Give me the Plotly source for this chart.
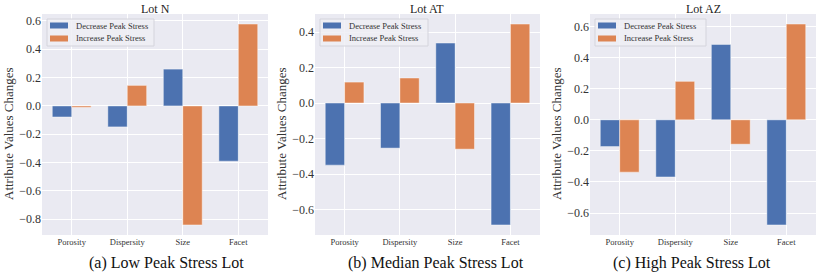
import plotly.graph_objects as go

categories = ["Porosity", "Dispersity", "Size", "Facet"]
series_names = ["Decrease Peak Stress", "Increase Peak Stress"]

lot_titles = ["Lot N", "Lot AT", "Lot AZ"]
captions = ["(a) Low Peak Stress Lot", "(b) Median Peak Stress Lot", "(c) High Peak Stress Lot"]

lotN_decrease = [-0.078, -0.148, 0.26, -0.39]
lotN_increase = [-0.01, 0.145, -0.84, 0.578]
lotAT_decrease = [-0.35, -0.254, 0.338, -0.687]
lotAT_increase = [0.118, 0.141, -0.26, 0.445]
lotAZ_decrease = [-0.172, -0.368, 0.486, -0.677]
lotAZ_increase = [-0.337, 0.248, -0.157, 0.617]

ticks_N = [0.6, 0.4, 0.2, 0.0, -0.2, -0.4, -0.6, -0.8]
ticks_AT = [0.4, 0.2, 0.0, -0.2, -0.4, -0.6]
ticks_AZ = [0.6, 0.4, 0.2, 0.0, -0.2, -0.4, -0.6]

W, H = 822, 273
BLUE = "#4C72B0"
ORANGE = "#DD8452"
BG = "#EAEAF2"
FONT = "Liberation Serif"

panels = [
    (lotN_decrease, lotN_increase, ticks_N),
    (lotAT_decrease, lotAT_increase, ticks_AT),
    (lotAZ_decrease, lotAZ_increase, ticks_AZ),
]
x_px = [(42, 268), (315, 540), (590, 816)]
y_px = (14, 235)
title_cx = [155, 427, 703]
caption_cx = [166, 436, 692]
ylabel_cx = [8, 281, 556]
legend_w = [107, 108, 111]

def fmt(v):
    s = f"{abs(v):.1f}"
    return ("\u2212" + s) if v < 0 else s

def px_x(p):
    return p / W

def px_y(p):
    return 1 - p / H

fig = go.Figure()
annotations = []
shapes = []
colors = [BLUE, ORANGE]
for i, (dec, inc, ticks) in enumerate(panels):
    sfx = "" if i == 0 else str(i + 1)
    xa, ya = "x" + sfx, "y" + sfx
    allv = dec + inc
    lo, hi = min(allv), max(allv)
    pad = (hi - lo) * 0.05
    for name, vals, col in zip(series_names, (dec, inc), colors):
        fig.add_trace(go.Bar(
            x=categories, y=vals, name=name, marker_color=col,
            marker_line=dict(color="rgba(255,255,255,0.55)", width=0.8),
            xaxis=xa, yaxis=ya, offsetgroup=name, showlegend=False,
        ))
    x0, x1 = x_px[i]
    fig.layout["xaxis" + sfx] = dict(
        domain=[x0 / W, x1 / W], anchor=ya, range=[-0.535, 3.535],
        showgrid=True, gridcolor="white", gridwidth=1, zeroline=False,
        tickfont=dict(family=FONT, size=8.5, color="#333"), ticks="",
        showline=False,
    )
    fig.layout["yaxis" + sfx] = dict(
        domain=[1 - y_px[1] / H, 1 - y_px[0] / H], anchor=xa,
        range=[lo - pad, hi + pad],
        tickvals=ticks, ticktext=[fmt(t) for t in ticks],
        showgrid=True, gridcolor="white", gridwidth=1, zeroline=False,
        tickfont=dict(family=FONT, size=12, color="#333"), ticks="",
        showline=False,
    )
    lx0 = x0 + 5
    shapes.append(dict(type="rect", xref="paper", yref="paper",
                       x0=px_x(lx0), x1=px_x(lx0 + legend_w[i]), y0=px_y(46), y1=px_y(19),
                       fillcolor="rgba(238,238,244,0.85)", line=dict(color="#d4d4dc", width=1), layer="above"))
    for k, (name, col) in enumerate(zip(series_names, colors)):
        cy = 25.5 + k * 13
        shapes.append(dict(type="rect", xref="paper", yref="paper",
                           x0=px_x(x0 + 8), x1=px_x(x0 + 26), y0=px_y(cy + 3), y1=px_y(cy - 3),
                           fillcolor=col, line=dict(width=0), layer="above"))
        annotations.append(dict(text=name, x=px_x(x0 + 32), y=px_y(cy),
                                xref="paper", yref="paper", showarrow=False,
                                font=dict(family=FONT, size=8.5, color="#333"),
                                xanchor="left", yanchor="middle"))
    annotations.append(dict(text=lot_titles[i], x=title_cx[i] / W, y=1 - 8.5 / H,
                            xref="paper", yref="paper", showarrow=False,
                            font=dict(family=FONT, size=12, color="#222"),
                            xanchor="center", yanchor="middle"))
    annotations.append(dict(text=captions[i], x=caption_cx[i] / W, y=1 - 263 / H,
                            xref="paper", yref="paper", showarrow=False,
                            font=dict(family=FONT, size=16, color="#111"),
                            xanchor="center", yanchor="middle"))
    annotations.append(dict(text="Attribute Values Changes", x=ylabel_cx[i] / W, y=1 - 134 / H,
                            xref="paper", yref="paper", showarrow=False, textangle=-90,
                            font=dict(family=FONT, size=13, color="#333"),
                            xanchor="center", yanchor="middle"))

fig.update_layout(
    width=W, height=H, margin=dict(l=0, r=0, t=0, b=0),
    paper_bgcolor="white", plot_bgcolor=BG,
    barmode="group", bargap=0.3, bargroupgap=0,
    annotations=annotations, shapes=shapes, showlegend=False,
)
fig.write_html("out.html", config={"displayModeBar": False},
               post_script="document.body.style.margin='0px';document.body.style.padding='0px';")
